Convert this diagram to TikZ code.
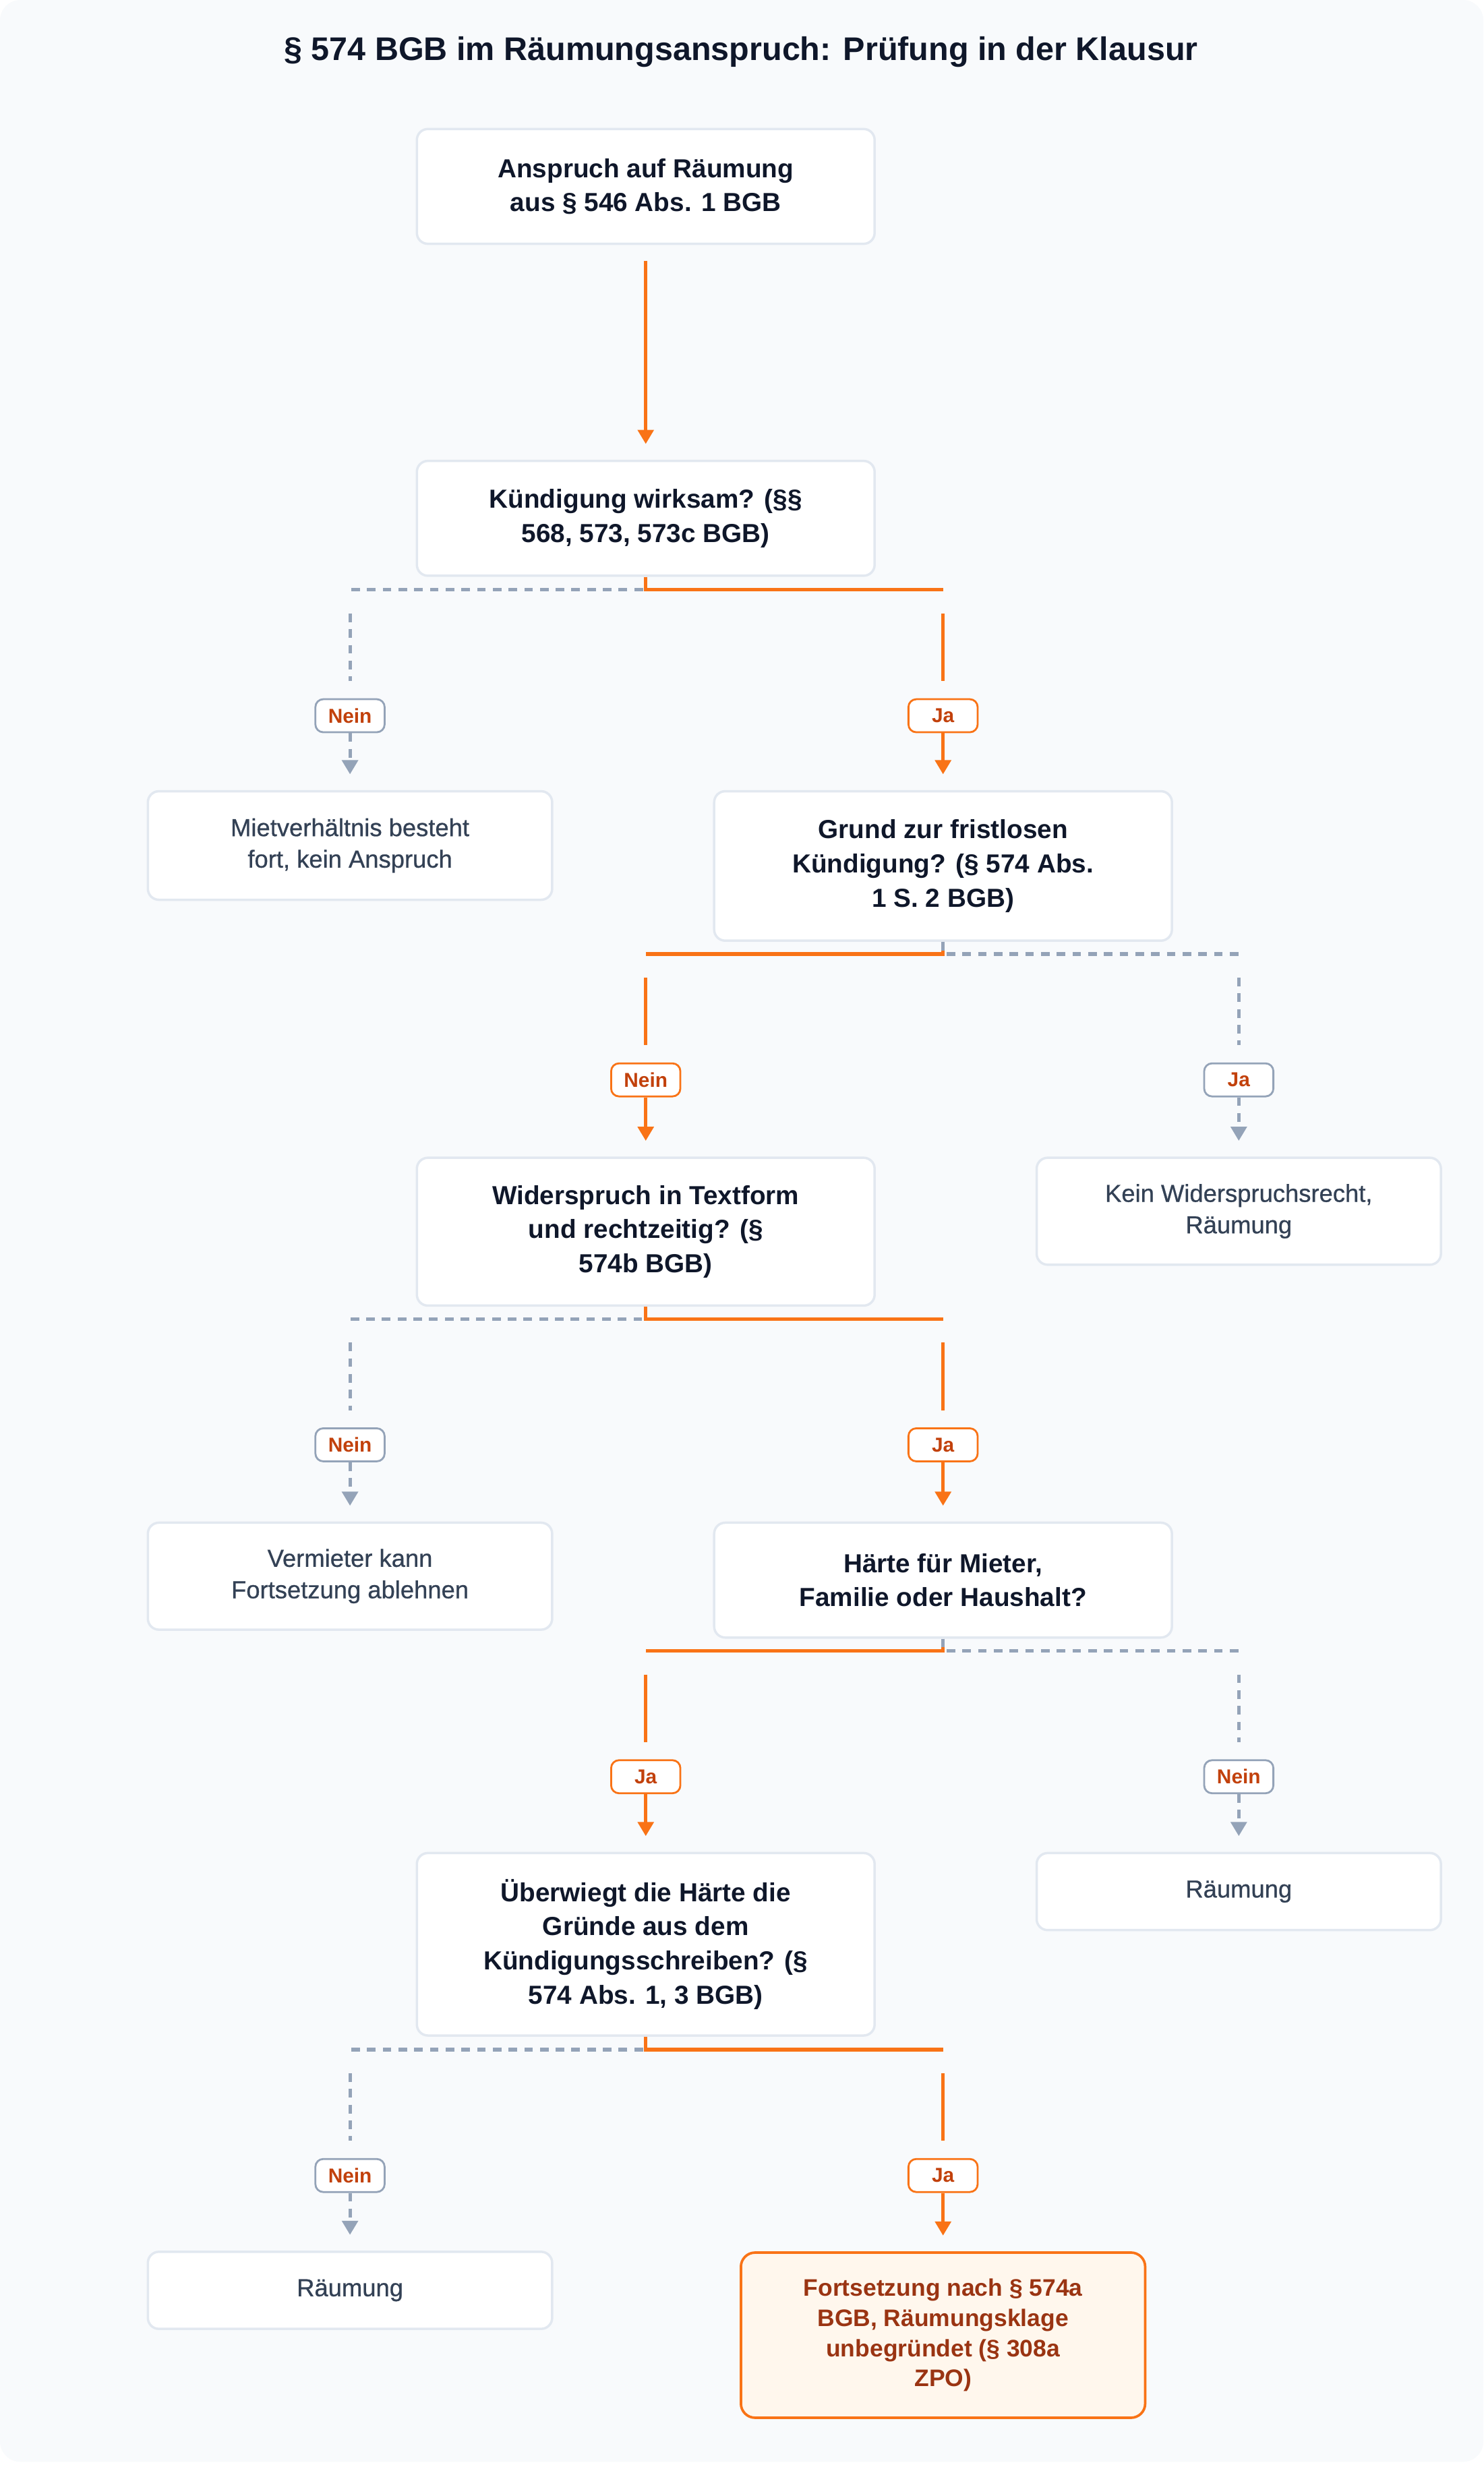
\documentclass[tikz,border=0pt]{standalone}
\usepackage{fontspec}
\setmainfont{Liberation Sans}
\newfontfamily\medfont[FakeBold=0.7]{Liberation Sans}
\usetikzlibrary{arrows.meta}
\definecolor{bgc}{HTML}{F8FAFC}
\definecolor{boxline}{HTML}{E2E8F0}
\definecolor{ink}{HTML}{0F172A}
\definecolor{softink}{HTML}{334155}
\definecolor{orng}{HTML}{F97316}
\definecolor{grayl}{HTML}{94A3B8}
\definecolor{lbltxt}{HTML}{C2410C}
\definecolor{endfill}{HTML}{FFF7ED}
\definecolor{endtxt}{HTML}{9A3412}
\tikzset{
  mainbox/.style={draw=boxline, line width=1.5pt, fill=white, rounded corners=7pt,
    align=center, minimum width=291pt, text=ink,
    font=\fontsize{16.6}{21.7}\selectfont\bfseries, inner sep=0pt},
  sidebox/.style={draw=boxline, line width=1.5pt, fill=white, rounded corners=7pt,
    align=center, minimum width=257pt, text=softink,
    font=\fontsize{15.6}{20}\selectfont\medfont, inner sep=0pt},
  endbox/.style={draw=orng, line width=1.6pt, fill=endfill, rounded corners=9pt,
    align=center, minimum width=257pt, text=endtxt,
    font=\fontsize{15.2}{19.2}\selectfont\bfseries, inner sep=0pt},
  olbl/.style={draw=orng, line width=1.2pt, fill=white, rounded corners=5pt,
    minimum width=44pt, minimum height=21pt, inner sep=0pt, text=lbltxt,
    font=\fontsize{12.8}{14}\selectfont\bfseries},
  glbl/.style={olbl, draw=grayl},
  oline/.style={draw=orng, line width=2.2pt},
  gline/.style={draw=grayl, line width=2.2pt, dash pattern=on 5.5pt off 4.5pt},
  oarr/.style={oline, -{Triangle[length=9pt,width=10pt]}},
  garr/.style={gline, -{Triangle[length=9pt,width=10pt]}},
}
\begin{document}
\begin{tikzpicture}[x=1pt,y=-1pt]
\useasboundingbox (0,0) rectangle (943,1569.6);
\fill[white] (0,0) rectangle (943,1569.6);
\fill[bgc] (0,0) [rounded corners=13pt] rectangle (943,1565);

\node[text=ink, font=\fontsize{20.8}{24}\selectfont\bfseries] (title) at (471,33)
  {§ 574 BGB im Räumungsanspruch: Prüfung in der Klausur};

% nodes
\node[mainbox, minimum height=73pt] (A) at (410.5,118.5) {Anspruch auf Räumung\\aus § 546 Abs. 1 BGB};
\node[mainbox, minimum height=73pt] (B) at (410.5,329.5) {Kündigung wirksam? (§§\\568, 573, 573c BGB)};
\node[sidebox, minimum height=69pt] (C) at (222.5,537.5) {Mietverhältnis besteht\\fort, kein Anspruch};
\node[mainbox, minimum height=95pt] (D) at (599.5,550.5) {Grund zur fristlosen\\Kündigung? (§ 574 Abs.\\1 S. 2 BGB)};
\node[mainbox, minimum height=94pt] (E) at (410.5,783) {Widerspruch in Textform\\und rechtzeitig? (§\\574b BGB)};
\node[sidebox, minimum height=68pt] (F) at (787.5,770) {Kein Widerspruchsrecht,\\Räumung};
\node[sidebox, minimum height=68pt] (G) at (222.5,1002) {Vermieter kann\\Fortsetzung ablehnen};
\node[mainbox, minimum height=73pt] (H) at (599.5,1004.5) {Härte für Mieter,\\Familie oder Haushalt?};
\node[mainbox, minimum height=116pt] (I) at (410.5,1236) {Überwiegt die Härte die\\Gründe aus dem\\Kündigungsschreiben? (§\\574 Abs. 1, 3 BGB)};
\node[sidebox, minimum height=49pt] (J) at (787.5,1202.5) {Räumung};
\node[sidebox, minimum height=49pt] (K) at (222.5,1456) {Räumung};
\node[endbox, minimum height=105pt] (L) at (599.5,1484.5) {Fortsetzung nach § 574a\\BGB, Räumungsklage\\unbegründet (§ 308a\\ZPO)};

% A -> B
\draw[oarr, shorten <=10pt, shorten >=10pt] (A) -- (B);

% split helper coordinates
\coordinate (s1l) at (222.5,375);  \coordinate (s1r) at (599.5,375);
\coordinate (s2l) at (410.5,606.5);  \coordinate (s2r) at (787.5,606.5);
\coordinate (s3l) at (222.5,838.5);  \coordinate (s3r) at (599.5,838.5);
\coordinate (s4l) at (410.5,1049.5); \coordinate (s4r) at (787.5,1049.5);
\coordinate (s5l) at (222.5,1303);   \coordinate (s5r) at (599.5,1303);

% split 1 (B)
\draw[gline] (B.south) |- (s1l);
\draw[oline] (B.south) |- (s1r);
\draw[gline] ([yshift=-15pt]s1l) -- ([yshift=-58pt]s1l);
\draw[oline] ([yshift=-15pt]s1r) -- ([yshift=-58pt]s1r);
\node[glbl] (l1n) at ([yshift=-80pt]s1l) {Nein};
\node[olbl] (l1j) at ([yshift=-80pt]s1r) {Ja};
\draw[garr, shorten >=10pt] (l1n) -- (C);
\draw[oarr, shorten >=10pt] (l1j) -- (D);

% split 2 (D)
\draw[oline] (D.south) |- (s2l);
\draw[gline] (D.south) |- (s2r);
\draw[oline] ([yshift=-15pt]s2l) -- ([yshift=-58pt]s2l);
\draw[gline] ([yshift=-15pt]s2r) -- ([yshift=-58pt]s2r);
\node[olbl] (l2n) at ([yshift=-80pt]s2l) {Nein};
\node[glbl] (l2j) at ([yshift=-80pt]s2r) {Ja};
\draw[oarr, shorten >=10pt] (l2n) -- (E);
\draw[garr, shorten >=10pt] (l2j) -- (F);

% split 3 (E)
\draw[gline] (E.south) |- (s3l);
\draw[oline] (E.south) |- (s3r);
\draw[gline] ([yshift=-15pt]s3l) -- ([yshift=-58pt]s3l);
\draw[oline] ([yshift=-15pt]s3r) -- ([yshift=-58pt]s3r);
\node[glbl] (l3n) at ([yshift=-80pt]s3l) {Nein};
\node[olbl] (l3j) at ([yshift=-80pt]s3r) {Ja};
\draw[garr, shorten >=10pt] (l3n) -- (G);
\draw[oarr, shorten >=10pt] (l3j) -- (H);

% split 4 (H)
\draw[oline] (H.south) |- (s4l);
\draw[gline] (H.south) |- (s4r);
\draw[oline] ([yshift=-15pt]s4l) -- ([yshift=-58pt]s4l);
\draw[gline] ([yshift=-15pt]s4r) -- ([yshift=-58pt]s4r);
\node[olbl] (l4j) at ([yshift=-80pt]s4l) {Ja};
\node[glbl] (l4n) at ([yshift=-80pt]s4r) {Nein};
\draw[oarr, shorten >=10pt] (l4j) -- (I);
\draw[garr, shorten >=10pt] (l4n) -- (J);

% split 5 (I)
\draw[gline] (I.south) |- (s5l);
\draw[oline] (I.south) |- (s5r);
\draw[gline] ([yshift=-15pt]s5l) -- ([yshift=-58pt]s5l);
\draw[oline] ([yshift=-15pt]s5r) -- ([yshift=-58pt]s5r);
\node[glbl] (l5n) at ([yshift=-80pt]s5l) {Nein};
\node[olbl] (l5j) at ([yshift=-80pt]s5r) {Ja};
\draw[garr, shorten >=10pt] (l5n) -- (K);
\draw[oarr, shorten >=10pt] (l5j) -- (L);
\end{tikzpicture}
\end{document}
